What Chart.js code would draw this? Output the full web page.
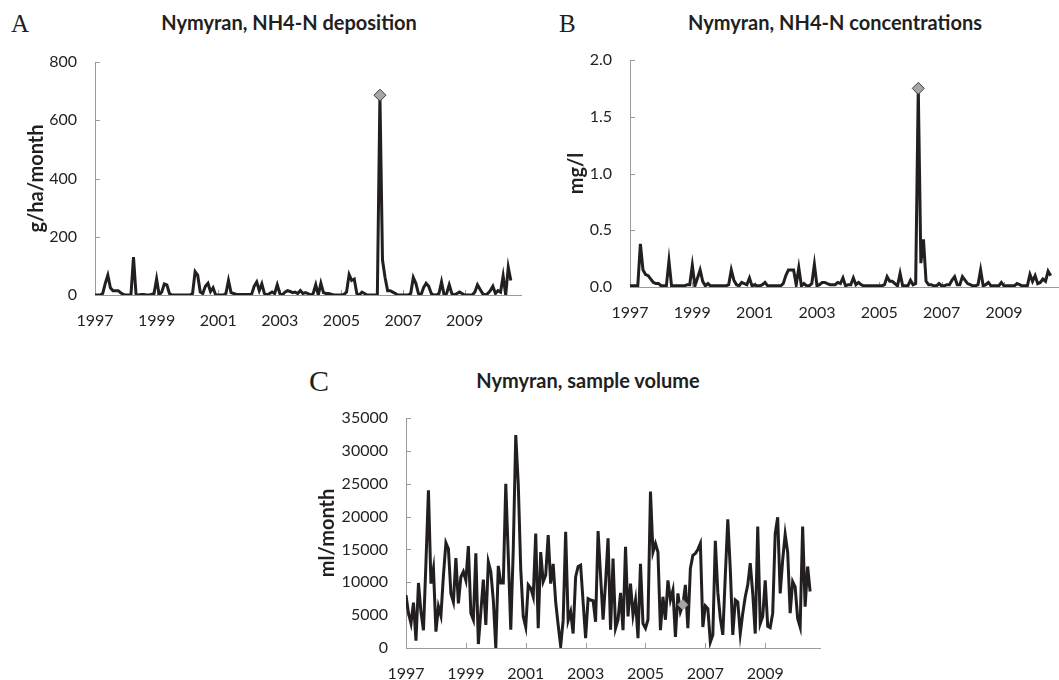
<!DOCTYPE html>
<html>
<head>
<meta charset="utf-8">
<script src="https://cdn.jsdelivr.net/npm/chart.js@4"></script>
<style>
  html, body { margin: 0; padding: 0; background: #fff; overflow: hidden; width: 1059px; height: 680px; }
  .box { position: absolute; }
  .letter { position: absolute; font-family: "Liberation Serif", serif; color: #231f20; line-height: 1; }
  .title { position: absolute; font-family: Lato, sans-serif; font-weight: bold; font-size: 20px; line-height: 20px;
           color: #231f20; transform: translateX(-50%); white-space: nowrap; }
</style>
</head>
<body>
<div class="letter" style="left:11px; top:11px; font-size:25px;">A</div>
<div class="title" style="left:289px; top:12px;">Nymyran, NH4-N deposition</div>
<div class="box" style="left:0; top:0; width:530px; height:330px;"><canvas id="chartA"></canvas></div>

<div class="letter" style="left:559px; top:11px; font-size:25px;">B</div>
<div class="title" style="left:835px; top:12px;">Nymyran, NH4-N concentrations</div>
<div class="box" style="left:530px; top:0; width:531px; height:330px;"><canvas id="chartB"></canvas></div>

<div class="letter" style="left:309px; top:366px; font-size:30px;">C</div>
<div class="title" style="left:588px; top:370px;">Nymyran, sample volume</div>
<div class="box" style="left:300px; top:340px; width:530px; height:340px;"><canvas id="chartC"></canvas></div>

<script>
// monthly series, Jan 1997 .. Jul 2010 (one row per year)
const startYear = 1997;
const yearTicks = [1997, 1999, 2001, 2003, 2005, 2007, 2009];
const axisEnd = 2010.83;
const markerIndex = 111; // highlighted month (Apr 2006)

const depositionA = [
    0, 0, 0, 5, 40, 68, 25, 15, 15, 15, 8, 2,
    0, 0, 0, 130, 0, 0, 2, 2, 0, 0, 2, 5,
    55, 0, 10, 38, 35, 5, 0, 0, 0, 0, 0, 0,
    0, 0, 5, 80, 68, 10, 5, 30, 40, 12, 25, 0,
    0, 0, 0, 5, 50, 8, 5, 3, 2, 2, 2, 2,
    2, 2, 30, 45, 15, 38, 5, 0, 5, 10, 5, 35,
    5, 0, 10, 15, 12, 8, 10, 5, 15, 5, 8, 5,
    0, 5, 35, 0, 40, 8, 5, 5, 3, 0, 0, 0,
    0, 2, 10, 70, 50, 55, 5, 0, 10, 5, 0, 0,
    0, 0, 0, 686, 120, 60, 15, 15, 10, 5, 0, 0,
    0, 0, 0, 5, 60, 40, 5, 0, 25, 40, 30, 5,
    0, 0, 5, 45, 0, 5, 35, 5, 0, 5, 10, 5,
    0, 0, 0, 0, 10, 35, 20, 5, 0, 5, 15, 30,
    5, 15, 10, 65, 0, 95, 50
];

const concentrationB = [
    0.01, 0.01, 0.01, 0.01, 0.38, 0.15, 0.11, 0.10, 0.07, 0.04, 0.03, 0.03,
    0.01, 0.01, 0.01, 0.23, 0.01, 0.01, 0.01, 0.01, 0.01, 0.01, 0.02, 0.02,
    0.19, 0.01, 0.08, 0.15, 0.05, 0.01, 0.03, 0.01, 0.01, 0.01, 0.01, 0.01,
    0.01, 0.01, 0.02, 0.15, 0.06, 0.02, 0.01, 0.04, 0.03, 0.02, 0.08, 0.01,
    0.02, 0.01, 0.01, 0.02, 0.04, 0.01, 0.01, 0.01, 0.01, 0.01, 0.01, 0.03,
    0.10, 0.15, 0.15, 0.15, 0.02, 0.17, 0.01, 0.03, 0.01, 0.01, 0.03, 0.20,
    0.01, 0.02, 0.04, 0.04, 0.03, 0.02, 0.02, 0.02, 0.04, 0.03, 0.08, 0.01,
    0.02, 0.02, 0.08, 0.02, 0.04, 0.02, 0.01, 0.01, 0.01, 0.01, 0.01, 0.01,
    0.01, 0.01, 0.02, 0.09, 0.05, 0.05, 0.03, 0.01, 0.12, 0.01, 0.01, 0.01,
    0.06, 0.02, 0.03, 1.75, 0.21, 0.42, 0.05, 0.02, 0.02, 0.01, 0.01, 0.03,
    0.01, 0.01, 0.02, 0.02, 0.06, 0.09, 0.02, 0.02, 0.09, 0.06, 0.03, 0.02,
    0.01, 0.01, 0.02, 0.15, 0.01, 0.02, 0.04, 0.01, 0.01, 0.01, 0.01, 0.04,
    0.01, 0.01, 0.01, 0.01, 0.01, 0.03, 0.02, 0.01, 0.01, 0.01, 0.11, 0.05,
    0.10, 0.03, 0.04, 0.07, 0.05, 0.14, 0.10
];

const volumeC = [
    8050, 5300, 3750, 6900, 1100, 9900, 5500, 2700, 13000, 24000, 9800, 12100,
    2500, 6300, 4900, 11000, 16000, 15100, 8300, 7000, 13700, 6800, 10800, 11600,
    10300, 15500, 5300, 4300, 14400, 600, 5500, 10400, 3500, 13100, 11600, 7300,
    0, 12500, 9900, 9900, 25000, 14000, 2800, 15000, 32400, 25000, 12000, 4800,
    3200, 9600, 9100, 7800, 17400, 3000, 14600, 10100, 11100, 17200, 9800, 12800,
    7000, 3500, 300, 4200, 17700, 4200, 5500, 2200, 10800, 12400, 12600, 7000,
    1500, 7500, 7300, 7200, 4000, 17800, 11000, 4300, 10000, 16700, 2800, 13600,
    3000, 4300, 8400, 2700, 15400, 4800, 9800, 5000, 7300, 1500, 12800, 3700,
    3000, 4300, 23800, 14600, 15900, 14600, 2700, 7800, 4300, 10300, 7300, 8800,
    1700, 8300, 5500, 6600, 9600, 3000, 12100, 14100, 14400, 15000, 15900, 3200,
    6400, 6000, 900, 2000, 16300, 8500, 4500, 2000, 11000, 19600, 12000, 2000,
    7300, 7000, 2200, 5300, 7800, 9600, 12900, 8300, 2200, 18500, 3700, 4800,
    10300, 3300, 3100, 5300, 17400, 19900, 8300, 13400, 17300, 14600, 5300, 10100,
    9300, 4500, 3200, 18500, 6300, 12400, 8600
];

const textColor = '#231f20';
const axisColor = '#9b9b9b';

// short tick marks drawn inward, like the original
const innerTicks = {
    id: 'innerTicks',
    beforeDatasetsDraw(chart) {
        const { ctx, chartArea, scales } = chart;
        ctx.save();
        ctx.strokeStyle = axisColor;
        ctx.lineWidth = 1;
        ctx.beginPath();
        scales.y.ticks.forEach(t => {
            const py = Math.round(scales.y.getPixelForValue(t.value)) + 0.5;
            ctx.moveTo(chartArea.left, py);
            ctx.lineTo(chartArea.left + 5, py);
        });
        scales.x.ticks.forEach(t => {
            const px = Math.round(scales.x.getPixelForValue(t.value)) + 0.5;
            ctx.moveTo(px, chartArea.bottom);
            ctx.lineTo(px, chartArea.bottom - 5);
        });
        ctx.stroke();
        ctx.restore();
    }
};

function toPoints(values) {
    return values.map((v, i) => ({ x: startYear + i / 12, y: v }));
}

function makeChart(id, values, opts) {
    const ctx = document.getElementById(id).getContext('2d');
    return new Chart(ctx, {
        type: 'line',
        data: {
            datasets: [{
                data: toPoints(values),
                borderColor: textColor,
                borderWidth: 3,
                tension: 0,
                pointStyle: 'rectRot',
                pointRadius: c => c.dataIndex === markerIndex ? opts.markerSize : 0,
                pointHoverRadius: 0,
                pointBackgroundColor: '#a6a6a6',
                pointBorderColor: opts.markerBorder,
                pointBorderWidth: 1
            }]
        },
        options: {
            responsive: true,
            maintainAspectRatio: false,
            animation: false,
            layout: { padding: { top: opts.padTop, right: opts.padRight, left: 0, bottom: 0 } },
            plugins: { legend: { display: false }, tooltip: { enabled: false } },
            scales: {
                x: {
                    type: 'linear',
                    min: startYear,
                    max: axisEnd,
                    afterBuildTicks: s => { s.ticks = yearTicks.map(v => ({ value: v })); },
                    afterFit: s => { s.height = opts.xHeight; },
                    grid: { display: true, drawOnChartArea: false, drawTicks: false },
                    border: { color: axisColor, width: 1 },
                    ticks: {
                        color: textColor,
                        font: { family: 'Lato', size: 16 },
                        padding: 16,
                        maxRotation: 0,
                        autoSkip: false,
                        callback: v => String(v)
                    }
                },
                y: {
                    min: 0,
                    max: opts.yMax,
                    afterFit: s => { s.width = opts.yWidth; },
                    grid: { display: true, drawOnChartArea: false, drawTicks: false },
                    border: { color: axisColor, width: 1 },
                    ticks: {
                        stepSize: opts.yStep,
                        color: textColor,
                        font: { family: 'Lato', size: 16 },
                        padding: 18,
                        callback: opts.yFormat
                    },
                    title: {
                        display: true,
                        text: opts.yTitle,
                        color: textColor,
                        font: { family: 'Lato', size: 20, weight: 'bold' },
                        padding: { top: opts.titlePad, bottom: 0 }
                    }
                }
            }
        },
        plugins: [innerTicks]
    });
}

makeChart('chartA', depositionA, {
    yMax: 800, yStep: 200, yTitle: 'g/ha/month', yFormat: v => String(v),
    yWidth: 95, xHeight: 35, padTop: 62, padRight: 9, titlePad: 25,
    markerSize: 6, markerBorder: '#3a3a3a'
});

makeChart('chartB', concentrationB, {
    yMax: 2.0, yStep: 0.5, yTitle: 'mg/l', yFormat: v => v.toFixed(1),
    yWidth: 100, xHeight: 43, padTop: 60, padRight: 0, titlePad: 35,
    markerSize: 6, markerBorder: '#3a3a3a'
});

makeChart('chartC', volumeC, {
    yMax: 35000, yStep: 5000, yTitle: 'ml/month', yFormat: v => String(v),
    yWidth: 106, xHeight: 32, padTop: 78, padRight: 10, titlePad: 16,
    markerSize: 5, markerBorder: '#9a9a9a'
});
</script>
</body>
</html>
